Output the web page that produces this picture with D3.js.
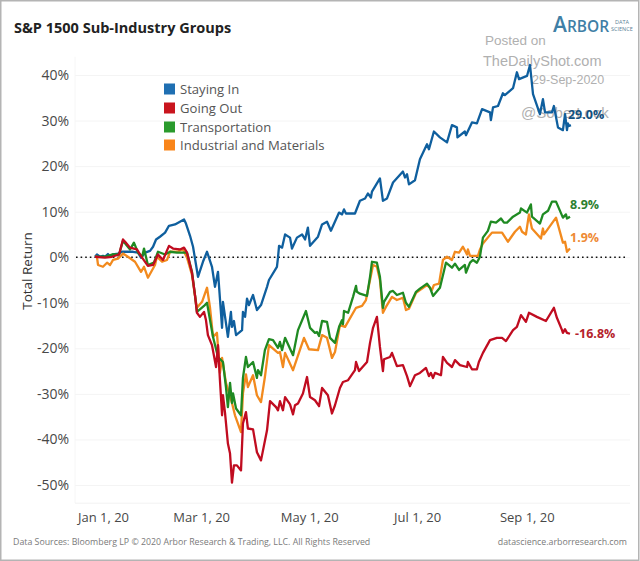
<!DOCTYPE html>
<html><head><meta charset="utf-8">
<script src="https://cdn.jsdelivr.net/npm/d3@7/dist/d3.min.js"></script>
<style>html,body{margin:0;padding:0;background:#fff}svg{display:block}</style>
</head><body><svg id="c" width="640" height="561"></svg>
<script>
// [day of 2020 counted from Jan 1, total return %]
const stayingIn=[[0,0.1],[1.1,0.6],[2.8,0.1],[4.5,0.3],[5.6,0.1],[7.3,0.7],[8.5,0.1],[10.2,0.6],[13,0.8],[15.3,1.2],[18.1,1.2],[21.5,1.2],[24.3,1],[26,-0.1],[28.3,1],[31.1,1.4],[32.8,2.3],[34.5,3.9],[36.7,4.5],[39.6,5.4],[41.8,6.9],[45.2,7.2],[48,7.8],[50.3,8.3],[51.4,7.4],[53.7,4.7],[55.4,2.3],[58.2,-4.3],[61,-1],[63.3,1.2],[66.1,-2.1],[67.8,-6.5],[69.5,-3.2],[71.8,-15.5],[72.3,-9.8],[75.1,-17.5],[76.8,-12],[77.4,-15.3],[78.5,-14],[79.7,-17.1],[83.1,-16],[83.6,-12],[84.8,-13.1],[85.9,-9.1],[87,-10.5],[89.3,-8.3],[91.5,-11.6],[93.8,-10.5],[97.2,-6.5],[98.3,-5],[102.8,-2.1],[103.4,-0.1],[104,2.5],[105.7,2.1],[107.4,5],[110.2,4.3],[111.3,1.9],[114.1,4.3],[117,5],[118.7,3.9],[120.3,6.5],[121.5,2.5],[126,4.5],[128.3,7.2],[131.1,7.8],[133.3,5.8],[137.9,9.8],[139.6,9.4],[140.7,10.5],[141.8,9.6],[146.9,9.6],[149.7,12.4],[152.6,12.9],[154.2,14],[155.9,13.1],[156.5,14.4],[161,17.3],[162.7,12.4],[165,12.9],[168.4,16.4],[174,18.8],[175.2,17.5],[176.3,18.2],[177.4,16],[180.8,16.9],[183.6,21.5],[187.6,24.8],[188.7,23.7],[191.5,27.6],[194.9,26.3],[198.9,25.2],[201.7,29],[204.5,28.5],[204.8,26.3],[209,27.6],[209.6,26.8],[213,29.6],[215.8,29.4],[218.7,32.5],[223.2,31.8],[223.7,30.1],[224.9,32.9],[227.7,33.2],[230.5,36],[231.6,35.6],[236.2,37.1],[238.4,40.6],[239.6,39.1],[244.1,39.8],[245.8,42.2],[247.5,35.8],[251.4,31.4],[253.1,34.7],[254.3,31.8],[258.2,31.8],[259.3,33.2],[261.6,28.5],[264.4,27.9],[265.6,31.4],[266.7,27.9],[267.2,29.4],[267.8,28.8],[268.9,29]];
const goingOut=[[0,0.1],[5.6,-0.1],[9.6,0.1],[13.6,0.6],[15.8,3.9],[17,3.4],[19.8,2.1],[23.7,1.7],[26.6,-0.1],[29.9,-1.9],[32.8,-1.7],[35.6,0.6],[38.4,-0.6],[41.8,2.5],[44.1,1.9],[48,1.7],[50.3,2.1],[52,1],[54.8,-3.4],[56.5,-8.3],[57.6,-12.2],[59.3,-13.1],[61.6,-12],[62.7,-13.8],[63.8,-17.1],[66.1,-19.3],[68.4,-24.1],[69.5,-19.3],[70.6,-27],[71.8,-34.7],[72.3,-30.3],[73.5,-34.3],[75.1,-40.9],[76.3,-43.1],[77.4,-49.5],[78.5,-45.7],[80.2,-45.7],[82.5,-46.8],[83.6,-36.5],[85.3,-34],[86.4,-37.6],[89.3,-37.8],[91.5,-42.8],[93.8,-44.6],[97.2,-38],[98.9,-31.6],[102.3,-32.9],[103.4,-33.6],[104.5,-31.6],[106.2,-33.6],[107.4,-30.7],[110.2,-32.3],[111.9,-34.5],[113,-32.5],[114.7,-32.1],[117.5,-29.9],[119.8,-26.3],[121.5,-30.7],[124.3,-31.4],[126.6,-32.7],[128.3,-28.7],[131.6,-30.3],[133.9,-34.3],[135.6,-32.5],[138.4,-28.7],[140.1,-27.4],[143,-27],[146.9,-24.8],[147.5,-23],[149.2,-25],[153.7,-23],[155.4,-18.8],[157.1,-15.5],[159.3,-13.1],[161,-19.7],[162.7,-25],[163.3,-22.4],[166.7,-21.9],[167.8,-21],[170.6,-23.9],[174,-23.7],[176.3,-26.1],[178,-28.3],[180.8,-25.9],[183.6,-25.4],[187,-24.3],[188.7,-26.1],[189.8,-25.4],[191,-26.5],[192.1,-25.4],[195.5,-25.9],[196.6,-21.9],[198.9,-23.2],[201.7,-24.1],[203.4,-22.6],[206.2,-23.7],[210.2,-24.1],[210.7,-23],[213,-24.6],[215.8,-24.6],[216.9,-23],[219.2,-21],[223.2,-18.2],[227.1,-17.7],[230,-17.7],[232.2,-18.4],[236.2,-16],[238.4,-15.3],[240.7,-12.7],[243.5,-14.2],[245.2,-12.2],[249.7,-13.1],[254.8,-14],[259.3,-11.1],[261,-13.3],[263.9,-16],[264.4,-16.6],[265.6,-15.8],[266.7,-16.6],[268.4,-16.8]];
const transportation=[[0,0.1],[5.6,0.1],[9.6,0.6],[13.6,0.6],[15.8,3.6],[19.8,1.7],[22,3.2],[24.3,1],[26.6,0.1],[27.7,1.9],[29.9,-1.7],[33.3,-1.2],[35.6,1.2],[39.6,0.6],[42.4,1.2],[46.3,1],[49.2,1],[52,1],[54.8,-3.2],[56.5,-8.3],[57.6,-12],[61.6,-10.7],[63.3,-10],[65,-13.8],[66.7,-17.5],[69.5,-21.9],[72.3,-23],[74,-28.5],[75.1,-32.9],[76.3,-27.6],[77.4,-32],[78,-29.9],[79.7,-33.2],[82.5,-34.7],[83.6,-26.5],[85.3,-21.9],[86.4,-24.1],[89.3,-23],[91.5,-26.5],[92.1,-24.8],[93.8,-25.9],[96,-20.4],[98.3,-18],[100.6,-18.2],[103.4,-19.9],[104.5,-18.6],[105.7,-20.4],[107.4,-17.7],[111.9,-21.5],[114.7,-16],[119.2,-11.8],[121.5,-15.5],[124.3,-16.6],[125.4,-16.4],[126.6,-17.3],[128.3,-14],[131.1,-14.2],[132.8,-17.7],[135.6,-18.8],[137.9,-15.3],[139.6,-13.8],[140.1,-14.7],[140.7,-11.8],[143,-12.2],[145.8,-8.7],[147.5,-6.3],[148,-7.6],[149.7,-8],[153.7,-8.5],[155.4,-4.3],[156.5,-1],[159.3,-1.2],[161,-4.3],[162.7,-11.1],[163.3,-9.8],[166.7,-7.6],[168.4,-7.4],[170.6,-8.3],[174,-7.8],[175.7,-10],[177.4,-10.9],[181.4,-7.6],[183.6,-6.9],[187.6,-5.8],[189.3,-6.7],[191,-8.5],[194.9,-6.7],[198.3,-1.2],[201.7,-2.3],[203.4,-1.4],[205.7,-2.8],[209,-1.7],[209.6,-3.4],[211.9,-1.2],[213.6,-0.6],[215.8,-1.2],[217.5,0.1],[219.2,4.3],[222,5.8],[223.7,7.8],[226.6,7.6],[229.4,8.5],[231.1,7.6],[232.8,7.6],[236.2,8.9],[240.1,9.8],[240.7,10.7],[244.1,9.8],[246.3,11.6],[246.9,8.9],[251.4,7.4],[253.1,9.4],[256,10.2],[258.2,12.2],[260.5,12.2],[264.4,8.7],[266.1,9.4],[266.7,8.5],[268.4,8.9]];
const industrials=[[0,0.1],[1.1,0.1],[1.7,-1.7],[4.5,-2.1],[6.8,-1.2],[8.5,-1.7],[10.2,-0.6],[13,-0.3],[15.8,0.8],[18.6,0.1],[22.6,-1],[26,-3.2],[27.7,-2.1],[29.9,-4.5],[33.9,-1.7],[35,0.1],[37.9,-1],[40.7,-0.6],[42.4,1.2],[46.3,1.2],[49.7,1.7],[52,-0.1],[54.8,-3.9],[56.5,-8.5],[57.6,-11.1],[60.5,-9.8],[63.3,-6.7],[65,-11.1],[66.7,-17.5],[68.9,-16.6],[70.6,-25.4],[71.8,-22.1],[74,-27.6],[77.4,-32],[79.1,-34.7],[82.5,-38.4],[83.6,-29.9],[85.3,-25.7],[86.4,-28.5],[89.3,-25.9],[91.5,-30.3],[93.8,-31.8],[96,-26.3],[98.3,-19.3],[103.4,-21],[104.5,-20.8],[106.2,-24.1],[107.4,-21],[111.9,-24.8],[118.1,-17.7],[120.9,-20.2],[126,-20.4],[128.3,-17.1],[131.1,-17.7],[133.9,-22.1],[135.6,-20.8],[138.4,-14.9],[141.3,-15.3],[147.5,-11.1],[150.9,-10.7],[153.1,-9.4],[155.4,-5],[157.1,-1.7],[159.3,-2.1],[161,-5],[162.7,-12.2],[164.4,-10.9],[167.8,-8.7],[170.6,-9.4],[174,-8.9],[175.7,-11.6],[177.4,-11.3],[181.4,-7.8],[187.6,-6.1],[190.4,-7.2],[191.5,-6.1],[194.4,-5.8],[196.6,-0.6],[198.9,0.1],[201.7,-0.6],[203.4,1.2],[205.7,1],[207.9,2.3],[210.2,0.6],[210.7,1.7],[211.9,0.3],[216.4,0.3],[217.5,1.7],[219.2,3],[224.3,5.4],[230,5.4],[233.3,3.4],[237.3,5.6],[240.1,6.7],[241.3,5.6],[243.5,5],[245.2,9.4],[246.9,6.3],[252,4.1],[253.1,6.3],[253.7,5],[260.5,8.7],[264.4,3.2],[265.6,3.4],[266.7,1.2],[268.4,1.9]];
const seriesNames=["Staying In","Going Out","Transportation","Industrial and Materials"];
const yTicks=[40,30,20,10,0,-10,-20,-30,-40,-50];
const xTickDays=[0,60,121,182,244];
const xTickLabels=["Jan 1, 20","Mar 1, 20","May 1, 20","Jul 1, 20","Sep 1, 20"];
const endLabels=["29.0%","-16.8%","8.9%","1.9%"];

const swatch=["#1f6fb2","#c9151e","#2a9a2c","#f9851a"];
const lineCol=["#0f5f9e","#c00c20","#1f8a22","#f28a1e"];
const labelCol=["#12507f","#b5222b","#2c8030","#ee8a35"];
const font='"Open Sans",sans-serif';
const svg=d3.select("#c");
const x=d3.scaleLinear().domain([-11.3,302.3]).range([75,630]);
const y=d3.scaleLinear().domain([-54,44]).range([503.2,56.8]);

svg.append("rect").attr("x",.75).attr("y",.75).attr("width",638).attr("height",559.5)
  .attr("fill","#fff").attr("stroke","#b4b4b4").attr("stroke-width",1.5);

// y axis + faint grid
const gy=svg.append("g").attr("transform","translate(75,0)")
  .call(d3.axisLeft(y).tickValues(yTicks).tickFormat(d=>d+"%").tickSize(-555).tickPadding(6));
gy.select(".domain").remove();
gy.selectAll("line").attr("stroke","#f4f4f4").attr("stroke-width",1);
gy.selectAll("text").attr("fill","#484848").style("font",'14px '+font);
// frame lines of the pane
svg.append("line").attr("x1",75).attr("x2",75).attr("y1",y(44)).attr("y2",y(-54)).attr("stroke","#f6f6f6");
svg.append("line").attr("x1",75).attr("x2",630).attr("y1",y(-54)).attr("y2",y(-54)).attr("stroke","#f2f2f2");

// x axis labels
const gx=svg.append("g").attr("transform","translate(0,503)")
  .call(d3.axisBottom(x).tickValues(xTickDays).tickFormat((d,i)=>xTickLabels[i]).tickSize(0).tickPadding(10));
gx.select(".domain").remove();
gx.selectAll("text").attr("fill","#484848").style("font",'13px '+font)
  .attr("dx",(d,i)=>i==0?8:0);

svg.append("text").attr("transform","translate(32,271) rotate(-90)").attr("text-anchor","middle")
  .attr("fill","#333").style("font",'13.5px '+font).text("Total Return");

// watermark (under the lines)
const wm=[["Posted on",485,45,13.5],["TheDailyShot.com",483,66,14.5],["29-Sep-2020",532,84,12.5],["@SoberLook",521,118,15]];
svg.selectAll("text.wm").data(wm).join("text").attr("class","wm").attr("x",d=>d[1]).attr("y",d=>d[2])
  .attr("fill","#b0b0b0").style("font",d=>d[3]+'px "Liberation Sans",sans-serif').text(d=>d[0]);

// zero line
svg.append("line").attr("x1",76).attr("x2",628).attr("y1",y(0)).attr("y2",y(0))
  .attr("stroke","#111").attr("stroke-width",1.6).attr("stroke-dasharray","1.6 3");

// series
const line=d3.line().x(d=>x(d[0])).y(d=>y(d[1]));
const all=[stayingIn,goingOut,transportation,industrials];
[0,3,2,1].forEach(i=>{
  svg.append("path").datum(all[i]).attr("d",line).attr("fill","none")
    .attr("stroke",lineCol[i]).attr("stroke-width",2.3).attr("stroke-linejoin","round");
});

// end labels
const labelDy=[-11,0,-12,-11], labelDx=[-3,5,0,0];
all.forEach((s,i)=>{
  const e=s[s.length-1];
  svg.append("text").attr("x",x(e[0])+labelDx[i]).attr("y",y(e[1])+labelDy[i]).attr("dy",".35em")
    .attr("fill",labelCol[i]).style("font",'bold 12.5px '+font).text(endLabels[i]);
});

// legend
const lg=svg.selectAll("g.lg").data(seriesNames).join("g").attr("class","lg")
  .attr("transform",(d,i)=>`translate(164,${[89,108,127,145][i]})`);
lg.append("rect").attr("y",-5.5).attr("width",11).attr("height",11).attr("fill",(d,i)=>swatch[i]);
lg.append("text").attr("x",16).attr("dy",".35em").attr("fill","#555").style("font",'13.1px '+font).text(d=>d);

// title
svg.append("text").attr("x",14).attr("y",33).attr("fill","#222").style("font",'bold 14.5px '+font).text("S&P 1500 Sub-Industry Groups");

// logo
const logo=svg.append("text").attr("x",553).attr("y",32).attr("fill","#3f7fa6").style("font",'600 15.5px "Open Sans",sans-serif');
logo.append("tspan").style("font-size","21px").text("A");
logo.append("tspan").text("RBOR");
["DATA","SCIENCE"].forEach((t,i)=>svg.append("text").attr("x",i?611:615).attr("y",24+i*7).attr("fill","#5a7f96").style("font",'5.5px "Open Sans",sans-serif').text(t));

// footer
svg.append("text").attr("x",13).attr("y",545).attr("fill","#7a7a7a").style("font",'8.8px '+font).text("Data Sources: Bloomberg LP © 2020 Arbor Research & Trading, LLC. All Rights Reserved");
svg.append("text").attr("x",627).attr("y",545).attr("text-anchor","end").attr("fill","#7a7a7a").style("font",'8.8px '+font).text("datascience.arborresearch.com");
</script></body></html>
